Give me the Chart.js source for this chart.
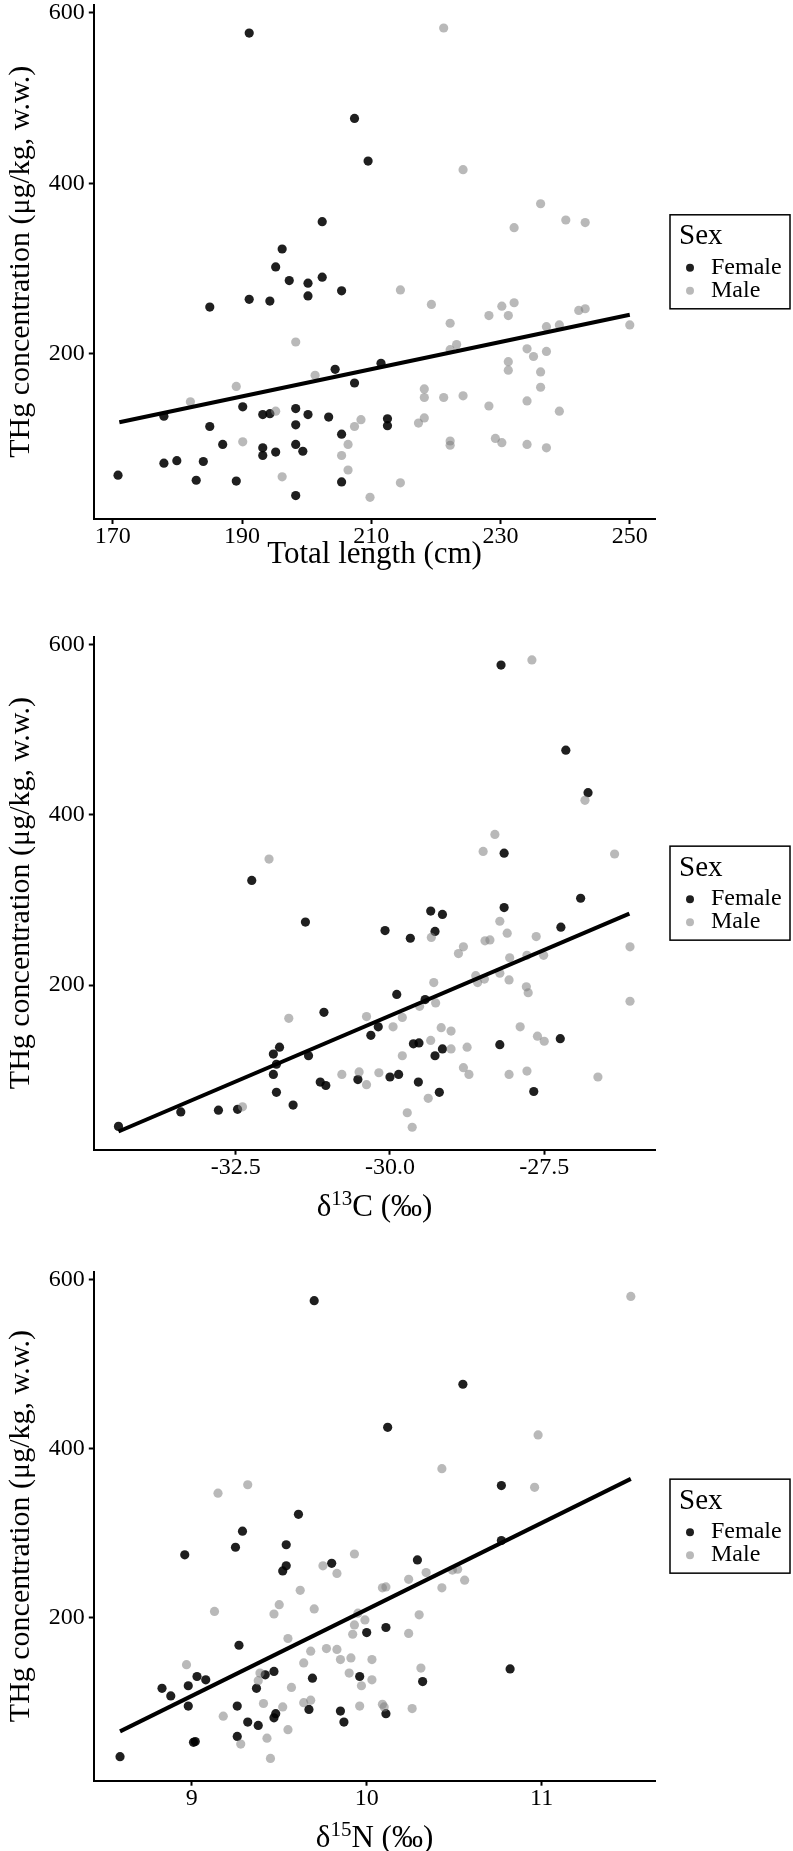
<!DOCTYPE html>
<html>
<head>
<meta charset="utf-8">
<script src="https://cdn.jsdelivr.net/npm/chart.js@4.4.0/dist/chart.umd.min.js"></script>
<style>
  html, body { margin: 0; padding: 0; background: #fff; overflow: hidden; }
  body { width: 793px; height: 1851px; position: relative; }
  .panel { position: absolute; left: 0; width: 793px; }
</style>
</head>
<body>
<div class="panel" style="top:0;height:600px"><canvas id="tl"></canvas></div>
<div class="panel" style="top:632px;height:600px"><canvas id="c13"></canvas></div>
<div class="panel" style="top:1267px;height:590px"><canvas id="n15"></canvas></div>
<script>
// THg (µg/kg w.w.) against total length, [x, y]
const femaleTL = [[191.1,576],[207.4,476],[209.5,426],[202.4,355],[196.2,323],[195.2,302],[197.3,286],[202.4,290],
  [200.2,283],[200.2,268],[205.4,274],[191.1,264],[194.3,262],[185.0,255],[204.4,182],[211.5,189],[207.4,166],
  [190.1,138],[193.2,129],[194.3,130],[198.3,136],[200.2,129],[203.4,126],[198.3,117],[185.0,115],[212.5,124],
  [212.5,116],[205.4,106],[187.0,94],[193.2,90],[193.2,81],[198.3,94],[195.2,85],[199.4,86],[177.9,127],[177.9,72],
  [179.9,75],[184.0,74],[170.8,58],[182.9,52],[189.1,51],[205.4,50],[198.3,34]];
const maleTL = [[214.5,275],[198.3,214],[201.3,175],[189.1,162],[182.0,144],[195.2,133],[208.4,123],[207.4,115],
  [190.1,97],[206.4,94],[205.4,81],[206.4,64],[196.2,56],[214.5,49],[209.8,32],[221.2,582],[224.2,416],[236.2,376],
  [240.1,357],[243.1,354],[232.1,348],[219.3,258],[230.2,256],[232.1,260],[228.2,245],[231.2,245],[222.2,236],
  [242.1,251],[243.1,253],[237.1,232],[239.1,234],[250.0,234],[223.2,211],[222.2,205],[234.1,206],[235.1,197],
  [237.1,203],[231.2,191],[231.2,181],[236.2,179],[236.2,161],[218.2,159],[218.2,149],[221.2,149],[224.2,151],
  [228.2,139],[234.1,145],[239.1,133],[218.2,125],[217.3,119],[229.2,101],[230.2,96],[222.2,98],[222.2,93],
  [234.1,94],[237.1,90]];
const fitTL = [[171,120],[250,246]];

// THg against d13C
const femaleC = [[-32.24,323],[-31.37,274],[-30.08,264],[-29.89,189],[-31.07,168],[-30.19,151],[-30.31,141],
  [-31.89,119],[-31.79,127],[-31.84,107],[-31.89,95],[-31.32,117],[-31.13,86],[-31.04,82],[-30.52,89],[-30.00,92],
  [-29.86,95],[-31.84,74],[-31.57,59],[-33.39,51],[-32.78,53],[-32.47,54],[-34.40,34],[-28.20,576],[-27.15,476],
  [-26.79,426],[-28.15,355],[-26.91,302],[-28.15,291],[-29.34,287],[-29.15,283],[-29.27,263],[-29.67,255],
  [-27.23,268],[-29.43,183],[-29.62,131],[-29.53,132],[-29.15,125],[-29.27,117],[-28.22,130],[-27.24,137],
  [-29.54,86],[-29.20,74],[-27.67,75]];
const maleC = [[-31.96,348],[-31.64,161],[-30.38,163],[-29.95,151],[-29.80,162],[-29.80,117],[-30.78,95],
  [-30.50,98],[-30.18,97],[-30.38,83],[-32.39,57],[-27.70,582],[-26.84,417],[-28.30,377],[-28.49,357],[-26.36,354],
  [-28.22,275],[-28.10,261],[-27.63,257],[-29.33,256],[-28.46,252],[-28.38,253],[-28.81,245],[-28.89,237],
  [-26.11,245],[-28.06,232],[-27.78,235],[-27.51,235],[-28.61,211],[-28.58,203],[-28.47,207],[-28.22,214],
  [-28.07,206],[-29.29,203],[-27.79,198],[-27.76,191],[-29.26,179],[-29.52,175],[-29.17,150],[-29.01,146],
  [-27.89,151],[-27.61,140],[-27.50,134],[-29.34,135],[-29.01,125],[-28.75,127],[-26.11,181],[-28.81,103],
  [-28.72,95],[-28.07,95],[-27.78,99],[-26.63,92],[-29.38,67],[-29.72,50],[-29.64,33]];
const fitC = [[-34.40,28],[-26.12,284]];

// THg against d15N
const femaleN = [[9.70,575],[10.12,425],[9.61,322],[9.29,302],[9.25,283],[9.54,286],[8.96,274],[9.54,261],
  [9.52,255],[9.80,264],[10.00,182],[10.11,188],[9.27,167],[9.42,132],[9.47,136],[9.03,130],[9.08,126],[8.98,119],
  [8.83,116],[8.88,107],[8.98,95],[9.37,116],[9.69,128],[9.96,130],[9.26,95],[9.67,91],[9.85,89],[10.11,86],
  [9.48,86],[9.47,81],[9.32,76],[9.38,72],[9.87,76],[9.26,59],[9.01,52],[9.02,53],[8.59,35],[10.55,476],
  [10.77,356],[10.77,291],[10.29,268],[10.82,139],[10.32,124]];
const maleN = [[9.32,357],[9.15,347],[9.93,275],[9.75,261],[9.83,252],[10.09,235],[10.11,236],[9.62,232],
  [9.50,215],[9.47,204],[9.70,210],[9.13,207],[9.95,205],[9.99,197],[9.93,191],[9.92,180],[9.55,175],[9.77,163],
  [9.68,160],[9.83,162],[9.85,150],[9.91,152],[10.03,150],[9.64,146],[8.97,144],[9.39,134],[9.90,134],[9.97,119],
  [10.03,126],[9.38,125],[9.57,117],[9.41,98],[9.52,94],[9.64,99],[9.68,102],[9.96,95],[10.09,97],[10.10,94],
  [9.18,83],[9.55,67],[9.43,57],[9.28,50],[9.45,33],[11.51,580],[10.98,416],[10.43,376],[10.96,354],[10.34,253],
  [10.24,245],[10.49,256],[10.52,257],[10.56,244],[10.43,235],[10.30,203],[10.24,181],[10.31,140],[10.26,92]];
const fitN = [[8.59,65],[11.51,364]];

const yTicks = [200, 400, 600];
const xTicksTL = [170, 190, 210, 230, 250];
const xTicksC = [-32.5, -30.0, -27.5];
const xLabelsC = ['-32.5', '-30.0', '-27.5'];
const xTicksN = [9, 10, 11];

const serif = "'Liberation Serif', 'Times New Roman', serif";
const FEMALE = 'rgba(0,0,0,0.88)';
const MALE = 'rgba(128,128,128,0.55)';

const pts = arr => arr.map(p => ({ x: p[0], y: p[1] }));

// boxed "Sex" legend on the right, like ggplot's
const sexLegend = {
  id: 'sexLegend',
  afterDraw(chart) {
    const { ctx, chartArea } = chart;
    const w = 120, h = 94, left = 670;
    const top = (chartArea.top + chartArea.bottom) / 2 - h / 2;
    ctx.save();
    ctx.strokeStyle = '#000';
    ctx.lineWidth = 1.5;
    ctx.strokeRect(left, top, w, h);
    ctx.fillStyle = '#000';
    ctx.textBaseline = 'middle';
    ctx.font = '29px ' + serif;
    ctx.fillText('Sex', 679, top + 22);
    ctx.font = '24px ' + serif;
    chart.data.datasets.filter(d => d.group).forEach((d, i) => {
      const cy = top + 53 + i * 23;
      ctx.beginPath();
      ctx.arc(690, cy, 4, 0, Math.PI * 2);
      ctx.fillStyle = d.backgroundColor;
      ctx.fill();
      ctx.fillStyle = '#000';
      ctx.fillText(d.label, 711, cy);
    });
    ctx.restore();
  }
};

// x title with a real superscript (delta notation); Chart.js reserves the space
const supTitle = {
  id: 'supTitle',
  afterDraw(chart, args, opts) {
    if (!opts.parts) return;
    const { ctx, chartArea } = chart;
    const sx = chart.scales.x;
    const base = sx.bottom - 15.5 + 10;
    ctx.save();
    ctx.fillStyle = '#000';
    ctx.textBaseline = 'alphabetic';
    const fontOf = p => (p.sup ? '21px ' : '31px ') + serif;
    let total = 0;
    opts.parts.forEach(p => { ctx.font = fontOf(p); total += ctx.measureText(p.t).width; });
    let x = (chartArea.left + chartArea.right) / 2 - total / 2;
    opts.parts.forEach(p => {
      ctx.font = fontOf(p);
      ctx.fillText(p.t, x, p.sup ? base - 11 : base);
      x += ctx.measureText(p.t).width;
    });
    ctx.restore();
  }
};

function makePanel(id, female, male, fit, xr, xTicks, xLabels, xTitle, parts, padBottom, titlePad) {
  const tickOpts = {
    display: true, drawOnChartArea: false, drawTicks: true,
    tickLength: 5, tickColor: '#000', tickWidth: 2
  };
  new Chart(document.getElementById(id), {
    type: 'scatter',
    data: {
      datasets: [
        { label: 'fit', data: pts(fit), showLine: true, borderColor: '#000', borderWidth: 4,
          pointRadius: 0, order: 0 },
        { label: 'Female', group: true, data: pts(female), backgroundColor: FEMALE,
          pointRadius: 4.6, borderWidth: 0, order: 2 },
        { label: 'Male', group: true, data: pts(male), backgroundColor: MALE,
          pointRadius: 4.6, borderWidth: 0, order: 1 }
      ]
    },
    options: {
      responsive: true,
      maintainAspectRatio: false,
      animation: false,
      devicePixelRatio: 1,
      layout: { padding: { top: 3.3, right: 137.7, bottom: padBottom, left: 0 } },
      plugins: {
        legend: { display: false },
        tooltip: { enabled: false },
        supTitle: { parts: parts }
      },
      scales: {
        x: {
          type: 'linear', min: xr[0], max: xr[1],
          afterBuildTicks: s => { s.ticks = xTicks.map(v => ({ value: v })); },
          afterFit: s => { s.paddingLeft = 0; s.paddingRight = 0; },
          grid: tickOpts,
          border: { display: true, color: '#000', width: 2 },
          ticks: {
            color: '#000', padding: 1, maxRotation: 0,
            font: { family: serif, size: 24, lineHeight: 1 },
            callback: (v, i) => xLabels[i]
          },
          title: {
            display: true, text: xTitle, color: parts ? 'rgba(0,0,0,0)' : '#000',
            font: { family: serif, size: 31, lineHeight: 1 },
            padding: { top: titlePad, bottom: 0 }
          }
        },
        y: {
          type: 'linear', min: 6.6, max: 609.4,
          afterBuildTicks: s => { s.ticks = yTicks.map(v => ({ value: v })); },
          afterFit: s => { s.paddingTop = 0; s.paddingBottom = 0; },
          grid: tickOpts,
          border: { display: true, color: '#000', width: 2 },
          ticks: {
            color: '#000', padding: 4,
            font: { family: serif, size: 24 },
            callback: v => String(v)
          },
          title: {
            display: true, text: 'THg concentration (μg/kg, w.w.)', color: '#000',
            font: { family: serif, size: 30, lineHeight: 1.2 },
            padding: { top: 3, bottom: 5.8 }
          }
        }
      }
    },
    plugins: [sexLegend, supTitle]
  });
}

makePanel('tl', femaleTL, maleTL, fitTL, [167.05, 253.95], xTicksTL, xTicksTL.map(String),
  'Total length (cm)', null, 30, -11);
makePanel('c13', femaleC, maleC, fitC, [-34.80, -25.70], xTicksC, xLabelsC,
  'δ13C (‰)', [{ t: 'δ' }, { t: '13', sup: true }, { t: 'C (‰)' }], 10.3, 10);
makePanel('n15', femaleN, maleN, fitN, [8.44, 11.65], xTicksN, xTicksN.map(String),
  'δ15N (‰)', [{ t: 'δ' }, { t: '15', sup: true }, { t: 'N (‰)' }], 4.3, 10);
</script>
</body>
</html>
